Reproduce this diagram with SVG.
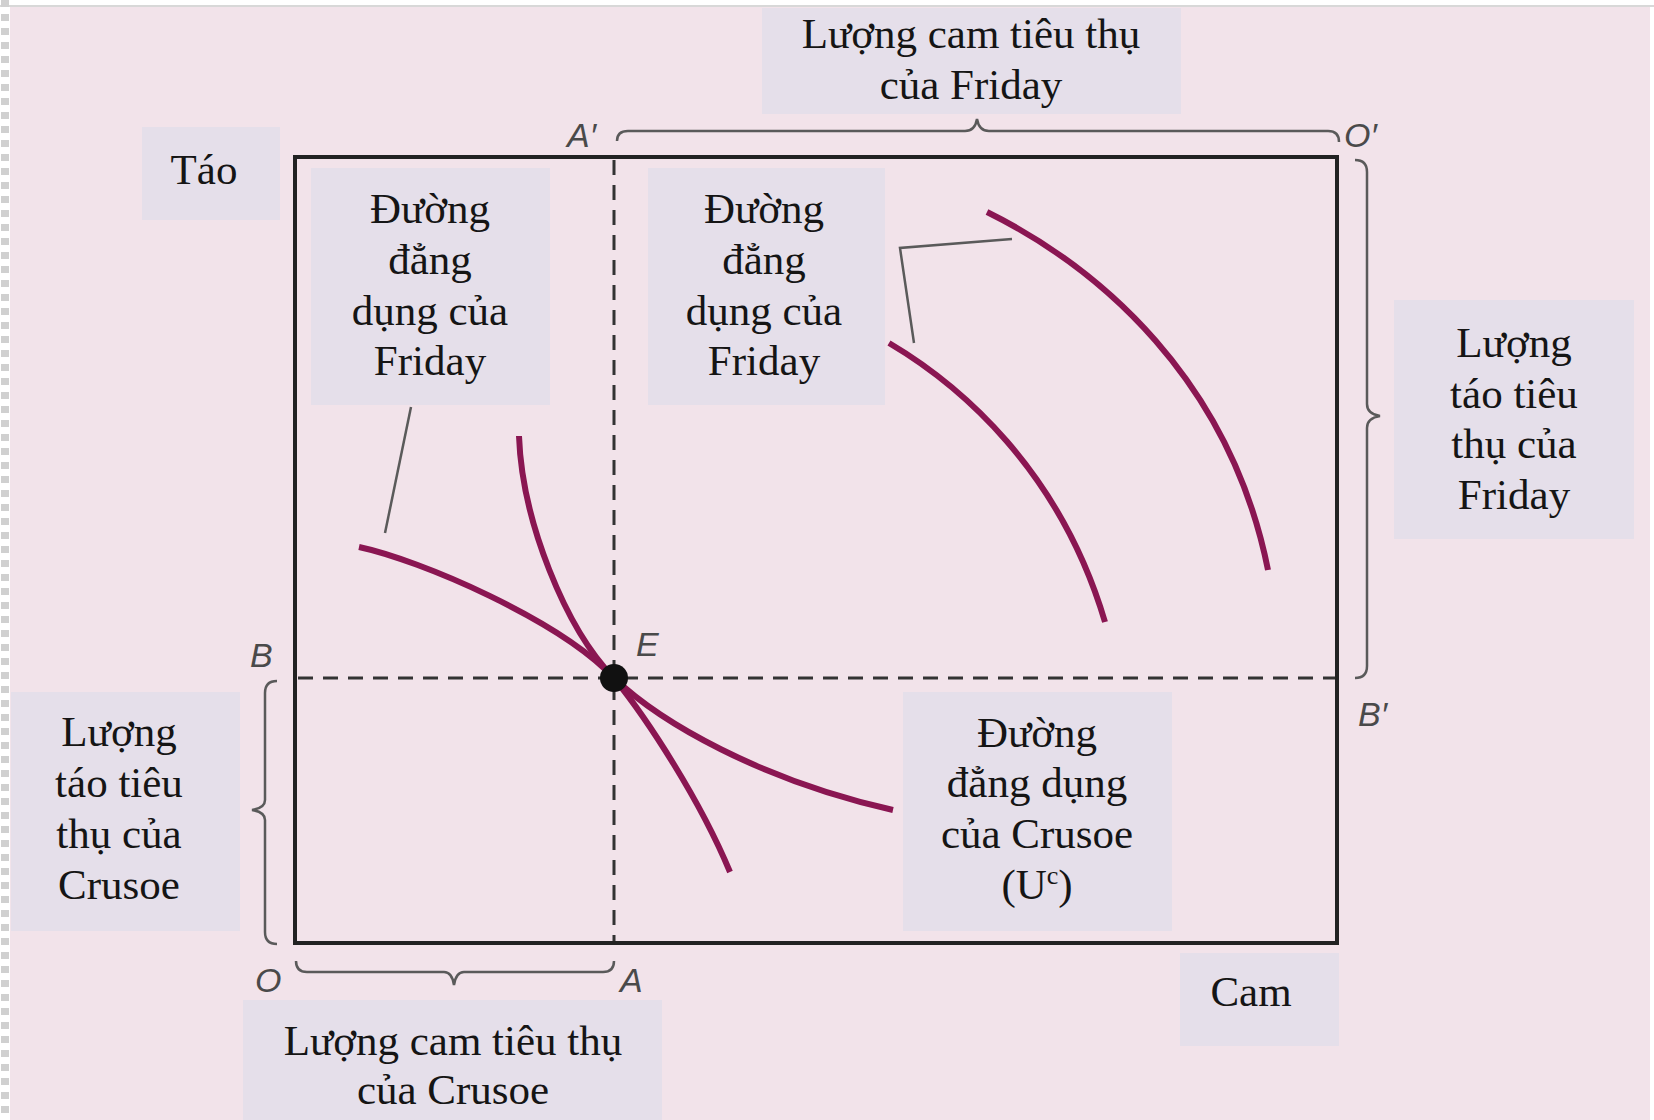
<svg xmlns="http://www.w3.org/2000/svg" width="1654" height="1120" viewBox="0 0 1654 1120">
<defs>
<style>
.bg{fill:#f2e3ea}
.box{fill:#e5dfea}
.t{font-family:"Liberation Serif","Times New Roman",serif;font-size:43px;fill:#151515;text-anchor:middle}
.lbl{font-family:"Liberation Sans",Arial,sans-serif;font-style:italic;font-size:34px;fill:#4a4a4a}
.curve{fill:none;stroke:#8a1652;stroke-width:6;stroke-linecap:butt}
.lead{fill:none;stroke:#5a5a5a;stroke-width:2.5}
.brace{fill:none;stroke:#5a5a5a;stroke-width:2.5}
.dash{fill:none;stroke:#333;stroke-width:3;stroke-dasharray:15 10}
</style>
</defs>
<rect x="0" y="0" width="1654" height="1120" fill="#ffffff"/>
<rect class="bg" x="10" y="7" width="1640" height="1113"/>
<line x1="0" y1="6" x2="1654" y2="6" stroke="#d8d8d8" stroke-width="2"/>
<line x1="5" y1="0" x2="5" y2="1120" stroke="#d0d0d0" stroke-width="8" stroke-dasharray="7 7"/>

<g id="label-top">
<rect class="box" x="762" y="8" width="419" height="106"/>
<text class="t" x="971" y="48">Lượng cam tiêu thụ</text>
<text class="t" x="971" y="99">của Friday</text>
</g>
<g id="label-tao">
<rect class="box" x="142" y="127" width="138" height="93"/>
<text class="t" x="204" y="184">Táo</text>
</g>
<g id="label-friday-left">
<rect class="box" x="311" y="168" width="239" height="237"/>
<text class="t" x="430" y="223">Đường</text>
<text class="t" x="430" y="274">đẳng</text>
<text class="t" x="430" y="325">dụng của</text>
<text class="t" x="430" y="375">Friday</text>
</g>
<g id="label-friday-right">
<rect class="box" x="648" y="168" width="237" height="237"/>
<text class="t" x="764" y="223">Đường</text>
<text class="t" x="764" y="274">đẳng</text>
<text class="t" x="764" y="325">dụng của</text>
<text class="t" x="764" y="375">Friday</text>
</g>
<g id="label-friday-apples">
<rect class="box" x="1394" y="300" width="240" height="239"/>
<text class="t" x="1514" y="357">Lượng</text>
<text class="t" x="1514" y="408">táo tiêu</text>
<text class="t" x="1514" y="458">thụ của</text>
<text class="t" x="1514" y="509">Friday</text>
</g>
<g id="label-crusoe-apples">
<rect class="box" x="11" y="692" width="229" height="239"/>
<text class="t" x="119" y="746">Lượng</text>
<text class="t" x="119" y="797">táo tiêu</text>
<text class="t" x="119" y="848">thụ của</text>
<text class="t" x="119" y="899">Crusoe</text>
</g>
<g id="label-crusoe-curve">
<rect class="box" x="903" y="692" width="269" height="239"/>
<text class="t" x="1037" y="747">Đường</text>
<text class="t" x="1037" y="797">đẳng dụng</text>
<text class="t" x="1037" y="848">của Crusoe</text>
<text class="t" x="1037" y="899">(U<tspan font-size="26" dy="-15">c</tspan><tspan dy="15">)</tspan></text>
</g>
<g id="label-crusoe-oranges">
<rect class="box" x="243" y="1000" width="419" height="120"/>
<text class="t" x="453" y="1055">Lượng cam tiêu thụ</text>
<text class="t" x="453" y="1104">của Crusoe</text>
</g>
<g id="label-cam">
<rect class="box" x="1180" y="953" width="159" height="93"/>
<text class="t" x="1251" y="1006">Cam</text>
</g>

<g id="box">
<rect x="295" y="157" width="1042" height="786" fill="none" stroke="#222" stroke-width="4"/>
</g>

<g id="connectors">
<line class="dash" x1="614" y1="160" x2="614" y2="941"/>
<line class="dash" x1="298" y1="678" x2="1335" y2="678"/>
<path class="brace" d="M617,141 Q617,131 628,131 L965,131 Q975,131 977,119 Q979,131 989,131 L1328,131 Q1339,131 1339,142"/>
<path class="brace" d="M1355,160 Q1367,160 1367,172 L1367,404 Q1367,414 1380,416 Q1367,418 1367,428 L1367,666 Q1367,678 1355,678"/>
<path class="brace" d="M277,681 Q265,681 265,693 L265,800 Q265,808 252,810 Q265,812 265,820 L265,932 Q265,944 277,944"/>
<path class="brace" d="M296,961 Q296,972 307,972 L444,972 Q452,972 454,985 Q456,972 464,972 L603,972 Q614,972 614,961"/>
<path class="lead" d="M411,407 L385,533"/>
<path class="lead" d="M1012,239 L900,248 L914,343"/>
</g>

<g id="curves">
<path class="curve" d="M519,436 C522,520 565,628 614,678 C660,722 760,780 893,810"/>
<path class="curve" d="M359,547 C420,560 560,620 614,678 C648,720 700,800 730,872"/>
<path class="curve" d="M889,343 C960,385 1060,470 1105,622"/>
<path class="curve" d="M987,212 C1100,268 1230,380 1268,570"/>
</g>

<g id="point-E">
<circle cx="614" cy="678" r="14" fill="#111"/>
</g>

<g id="letters">
<text class="lbl" x="567" y="147">A′</text>
<text class="lbl" x="1344" y="147">O′</text>
<text class="lbl" x="250" y="667">B</text>
<text class="lbl" x="636" y="656">E</text>
<text class="lbl" x="255" y="992">O</text>
<text class="lbl" x="620" y="992">A</text>
<text class="lbl" x="1358" y="726">B′</text>
</g>
</svg>
